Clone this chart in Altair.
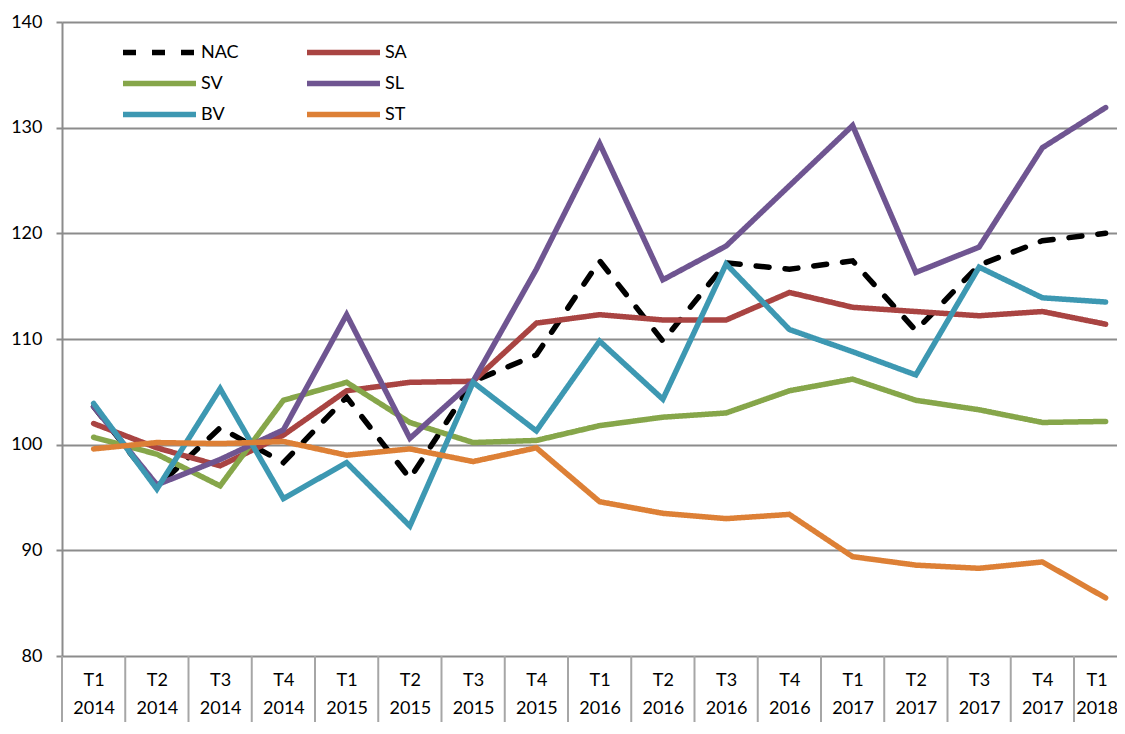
import json
import altair as alt
import pandas as pd

quarters = ["T1", "T2", "T3", "T4", "T1", "T2", "T3", "T4", "T1", "T2", "T3", "T4",
            "T1", "T2", "T3", "T4", "T1"]
years = ["2014", "2014", "2014", "2014", "2015", "2015", "2015", "2015",
         "2016", "2016", "2016", "2016", "2017", "2017", "2017", "2017", "2018"]

series_names = ["NAC", "SA", "SV", "SL", "BV", "ST"]
nac = [103.6, 96.0, 101.6, 98.3, 104.5, 96.8, 106.0, 108.5, 117.4, 109.8, 117.2, 116.6, 117.4, 110.8, 117.0, 119.3, 120.0]
sa = [102.0, 99.7, 98.0, 100.9, 105.1, 105.9, 106.0, 111.5, 112.3, 111.8, 111.8, 114.4, 113.0, 112.6, 112.2, 112.6, 111.4]
sv = [100.7, 99.1, 96.1, 104.2, 105.9, 102.1, 100.2, 100.4, 101.8, 102.6, 103.0, 105.1, 106.2, 104.2, 103.3, 102.1, 102.2]
sl = [103.6, 96.2, 98.6, 101.4, 112.3, 100.6, 106.0, 116.6, 128.5, 115.6, 118.8, 124.5, 130.2, 116.3, 118.7, 128.1, 131.9]
bv = [103.9, 95.8, 105.3, 94.9, 98.3, 92.3, 105.9, 101.3, 109.8, 104.3, 117.1, 110.9, 108.8, 106.6, 116.8, 113.9, 113.5]
st = [99.6, 100.2, 100.1, 100.3, 99.0, 99.6, 98.4, 99.7, 94.6, 93.5, 93.0, 93.4, 89.4, 88.6, 88.3, 88.9, 85.5]

# legend order (filled column by column): NAC, SV, BV | SA, SL, ST
legend_order = ["NAC", "SV", "BV", "SA", "SL", "ST"]
colors = ["#000000", "#86A64A", "#3D98B2", "#A94442", "#6F5591", "#DD8036"]
dashes = [[13, 16], [1, 0], [1, 0], [1, 0], [1, 0], [1, 0]]
y_ticks = [80, 90, 100, 110, 120, 130, 140]

rows = []
for name, vals in zip(series_names, [nac, sa, sv, sl, bv, st]):
    for i, v in enumerate(vals):
        rows.append({"serie": name, "idx": i, "valor": v})
df = pd.DataFrame(rows)

sep_df = pd.DataFrame({"b": [i - 0.5 for i in range(len(quarters))]})

labels = [q + "|" + y for q, y in zip(quarters, years)]
label_expr = "split(" + json.dumps(labels) + "[round(datum.value)], '|')"
last_idx = len(quarters) - 1

FONT = "Lato"
GRID = "#8C8C8C"
W, H = 1055, 634

x_scale = alt.Scale(domain=[-0.5, 16.18], nice=False, zero=False)
y_scale = alt.Scale(domain=[80, 140], nice=False, zero=False)

legend = alt.Legend(
    orient="none", legendX=58, legendY=19.5, columns=2, title=None,
    symbolType="stroke", symbolSize=5329, symbolStrokeWidth=5.5,
    labelFont=FONT, labelFontSize=18, labelColor="#000000", labelOffset=2,
    columnPadding=65, rowPadding=9, padding=0, clipHeight=22,
)

lines = alt.Chart(df).mark_line(strokeWidth=5.5, strokeCap="round").encode(
    x=alt.X("idx:Q", scale=x_scale, axis=alt.Axis(
        values=list(range(len(quarters))), labelExpr=label_expr, ticks=False,
        grid=False, domain=False, title=None, labelFont=FONT, labelFontSize=18,
        labelColor="#000000", labelLineHeight=28, labelPadding=15,
        labelOffset={"condition": {"test": f"datum.value == {last_idx}", "value": -9}, "value": 0},
        labelBaseline="top", labelFlush=False, labelOverlap=False, labelBound=False)),
    y=alt.Y("valor:Q", scale=y_scale, axis=alt.Axis(
        values=y_ticks, title=None, grid=True, gridColor=GRID, gridWidth=2,
        domainColor=GRID, domainWidth=2, tickColor=GRID, tickWidth=2, tickSize=6,
        labelPadding=14, labelFont=FONT, labelFontSize=18, labelColor="#000000")),
    color=alt.Color("serie:N", scale=alt.Scale(domain=legend_order, range=colors),
                    legend=legend),
    strokeDash=alt.StrokeDash("serie:N", scale=alt.Scale(domain=legend_order, range=dashes),
                              legend=legend),
    order=alt.Order("idx:Q"),
)

seps = alt.Chart(sep_df).mark_rule(color="#A6A6A6", strokeWidth=2).encode(
    x=alt.X("b:Q", scale=x_scale),
    y=alt.value(H),
    y2=alt.value(H + 80),
)

chart = alt.layer(seps, lines).properties(
    width=W, height=H,
    autosize=alt.AutoSizeParams(type="none"),
    padding={"left": 54, "top": 14, "right": 0, "bottom": 66},
).configure_view(stroke=None).configure(background="white")

chart.save("out.html", embed_options={"renderer": "svg", "actions": False})
